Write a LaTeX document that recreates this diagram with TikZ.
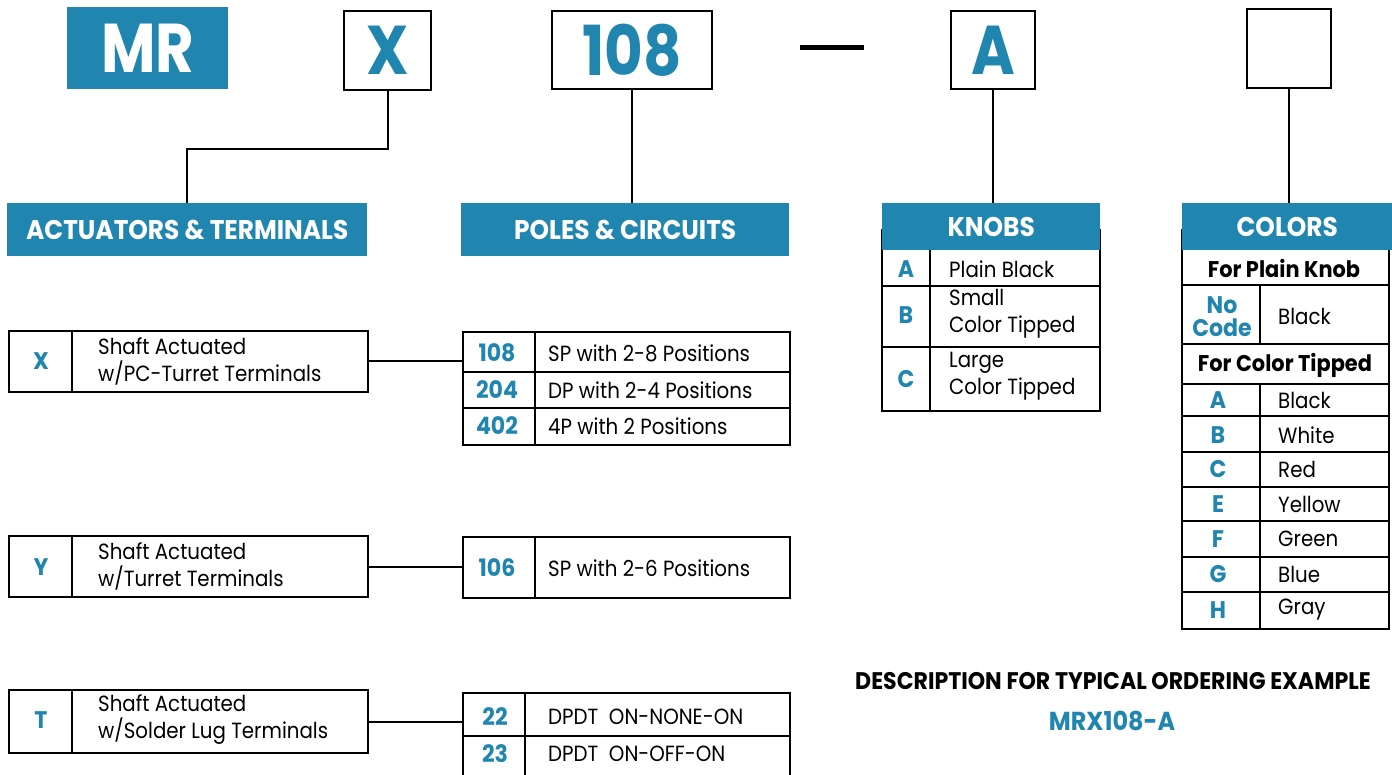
\documentclass[tikz,border=0pt]{standalone}
\usepackage{fontspec}
\setmainfont{Poppins}[FakeStretch=0.90]
\newfontfamily\bigfam{Poppins}[FakeStretch=0.86]
\newfontfamily\hdrfam{Poppins}[FakeStretch=0.92]
\definecolor{teal0}{RGB}{33,134,175}
\tikzset{
  hdr/.style={fill=teal0, text=white, inner sep=0pt, anchor=north west, font=\hdrfam\fontsize{27}{30}\selectfont\bfseries},
  bigbox/.style={draw=black, line width=2.2pt, inner sep=0pt, anchor=north west},
  bigtxt/.style={text=teal0, font=\bigfam\fontsize{69}{70}\selectfont\bfseries},
  frame/.style={draw=black, line width=2pt, inner sep=0pt, anchor=north west},
  conn/.style={draw=black, line width=2pt},
  sep/.style={draw=black, line width=1.6pt},
  code/.style={text=teal0, inner sep=0pt, font=\hdrfam\fontsize{24}{25}\selectfont\bfseries},
  body/.style={inner sep=0pt, anchor=west, align=left, font=\fontsize{22}{27}\selectfont},
  bbody/.style={inner sep=0pt, font=\hdrfam\fontsize{22.7}{27}\selectfont\bfseries},
}
\begin{document}
\begin{tikzpicture}[x=1pt,y=-1pt]
\useasboundingbox (0,0) rectangle (1392,775);
\fill[white] (0,0) rectangle (1392,775);

% ---- top code row
\node[hdr, minimum width=161, minimum height=82, font=\bigfam\fontsize{69}{70}\selectfont\bfseries] (mr) at (67,7) {MR};
\node[bigbox, minimum width=87, minimum height=79] (bx) at (343,10) {};
\node[bigtxt] at (bx.center) {X};
\node[bigbox, minimum width=160, minimum height=78] (b108) at (551,10) {};
\node[bigtxt] at (b108.center) {108};
\coordinate (d1) at (800,48);
\coordinate (d2) at (864,48);
\draw[line width=5pt] (d1) -- (d2);
\node[bigbox, minimum width=84, minimum height=78] (ba) at (950,10) {};
\node[bigtxt] at (ba.center) {A};
\node[bigbox, minimum width=84, minimum height=79] (bc) at (1246,8) {};

% ---- headers
\node[hdr, minimum width=360, minimum height=53] (hact) at (7,203) {ACTUATORS \& TERMINALS};
\node[hdr, minimum width=328, minimum height=53] (hpol) at (461,203) {POLES \& CIRCUITS};

% knobs table frame + header
\node[frame, minimum width=218, minimum height=181] (tk) at (881,229) {};
\node[hdr, minimum width=218, minimum height=47] (hkn) at (882,203) {KNOBS};
% colors table frame + header
\node[frame, minimum width=207, minimum height=399] (tc) at (1181,229) {};
\node[hdr, minimum width=210, minimum height=47] (hcol) at (1182,203) {COLORS};

% ---- connectors top
\draw[conn] (bx.south) -- ++(0,58) -| (hact.north);
\draw[conn] (b108.south) -- (b108.south |- hpol.north);
\draw[conn] (ba.south) -- (ba.south |- hkn.north);
\draw[conn] (bc.south) -- (bc.south |- hcol.north);

% ---- knobs rows
\draw[sep] (881,286) -- (1099,286);
\draw[sep] (881,347) -- (1099,347);
\draw[sep] (930,250) -- (930,410);
\node[code] at (906,269) {A};
\node[body] at (949,269) {Plain Black};
\node[code] at (906,315) {B};
\node[body] at (949,314) {Small\\Color Tipped};
\node[code] at (906,379) {C};
\node[body] at (949,376) {Large\\Color Tipped};

% ---- colors rows
\foreach \yy in {285,344,384,416,452,487,521,557,592}
  \draw[sep] (1181,\yy) -- (1388,\yy);
\draw[sep] (1260,285) -- (1260,344);
\draw[sep] (1260,384) -- (1260,628);
\node[bbody] at (1284,269) {For Plain Knob};
\node[code, align=center, font=\hdrfam\fontsize{24}{23}\selectfont\bfseries] at (1222,317) {No\\Code};
\node[body] at (1278,316) {Black};
\node[bbody] at (1285,365) {For Color Tipped};
\foreach \c/\t/\yy in {A/Black/400,B/White/435,C/Red/469,E/Yellow/504,F/Green/539,G/Blue/574,H/Gray/610}{
  \node[code] at (1218,\yy) {\c};
  \node[body] at (1278,\yy) {\t};
}

% ---- actuator tables
\node[frame, minimum width=359, minimum height=61] (tx) at (8,330) {};
\draw[sep] (72,330) -- (72,391);
\node[code] at (41,361) {X};
\node[body] at (98,361) {Shaft Actuated\\w/PC-Turret Terminals};

\node[frame, minimum width=359, minimum height=61] (ty) at (8,535) {};
\draw[sep] (72,535) -- (72,596);
\node[code] at (41,567) {Y};
\node[body] at (98,566) {Shaft Actuated\\w/Turret Terminals};

\node[frame, minimum width=359, minimum height=63] (tt) at (8,689) {};
\draw[sep] (72,689) -- (72,752);
\node[code] at (41,720) {T};
\node[body] at (98,720) {Shaft Actuated\\w/Solder Lug Terminals};

% ---- poles tables
\node[frame, minimum width=327, minimum height=113] (t108) at (462,331) {};
\draw[sep] (462,372) -- (789,372);
\draw[sep] (462,408) -- (789,408);
\draw[sep] (535,331) -- (535,444);
\node[code] at (497,353) {108};
\node[body] at (548,353) {SP with 2-8 Positions};
\node[code] at (497,390) {204};
\node[body] at (548,390) {DP with 2-4 Positions};
\node[code] at (497,426) {402};
\node[body] at (548,426) {4P with 2 Positions};

\node[frame, minimum width=327, minimum height=61] (t106) at (462,536) {};
\draw[sep] (535,536) -- (535,597);
\node[code] at (497,568) {106};
\node[body] at (548,568) {SP with 2-6 Positions};

\node[frame, minimum width=327, minimum height=100] (t22) at (462,692) {};
\draw[sep] (462,736) -- (789,736);
\draw[sep] (525,692) -- (525,792);
\node[code] at (495,717) {22};
\node[body] at (548,717) {DPDT\ \ ON-NONE-ON};
\node[code] at (495,754) {23};
\node[body] at (548,754) {DPDT\ \ ON-OFF-ON};

% ---- connectors left-right
\draw[conn] (tx.east) -- (tx.east -| t108.west);
\draw[conn] (ty.east) -- (ty.east -| t106.west);
\draw[conn] (tt.east) -- (tt.east -| t22.west);

% ---- description
\node[inner sep=0pt, font=\hdrfam\fontsize{24}{26}\selectfont\bfseries] (desc) at (1113,681) {DESCRIPTION FOR TYPICAL ORDERING EXAMPLE};
\node[inner sep=0pt, text=teal0, font=\hdrfam\fontsize{26}{28}\selectfont\bfseries] (ex) at (1112,721) {MRX108-A};
\end{tikzpicture}
\end{document}
